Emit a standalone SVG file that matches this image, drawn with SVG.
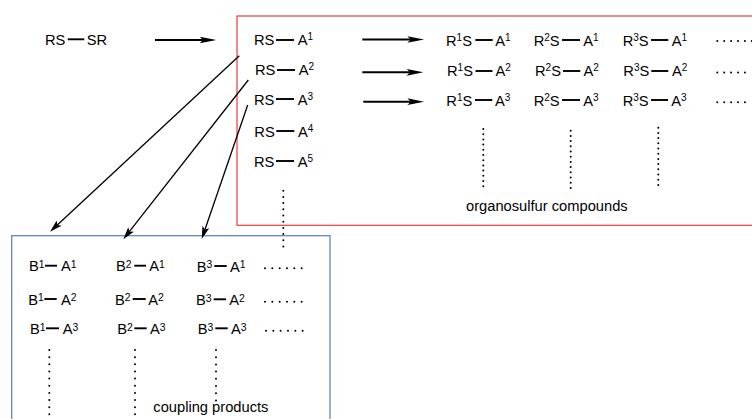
<svg xmlns="http://www.w3.org/2000/svg" width="752" height="419" viewBox="0 0 752 419">
<style>
.t{font-family:"Liberation Sans",Arial,Helvetica,sans-serif;font-size:14.7px;fill:#000}
.s{font-size:10px}
.sb{font-size:10.4px}
.bond{stroke:#000;stroke-width:1.9}
.dots{stroke:#000;stroke-width:2;stroke-linecap:round;fill:none}
.arr{stroke:#000;stroke-width:2;fill:none}
.diag{stroke:#000;stroke-width:1.3;fill:none}
</style>
<defs>
<marker id="ah" markerUnits="userSpaceOnUse" markerWidth="20" markerHeight="10" viewBox="-4 -4 18 8" refX="0" refY="0" orient="auto">
<path d="M12,0 L-3,-3 L0,0 L-3,3 Z" fill="#000"/>
</marker>
<marker id="ahs" markerUnits="userSpaceOnUse" markerWidth="16" markerHeight="10" viewBox="-4 -4 16 8" refX="0" refY="0" orient="auto">
<path d="M10,0 L-2.5,-3.6 L0,0 L-2.5,3.6 Z" fill="#000"/>
</marker>
</defs>

<g id="box-organosulfur">
<rect x="237" y="16" width="520" height="209.3" fill="none" stroke="#f0393c" stroke-width="1.2"/>
<text class="t" x="466" y="210.7">organosulfur compounds</text>
</g>
<g id="box-coupling">
<rect x="11.7" y="235.7" width="318.3" height="200" fill="none" stroke="#5e86c6" stroke-width="1.3"/>
<text class="t" x="153.3" y="412">coupling products</text>
</g>

<g id="disulfide">
<text class="t" x="45" y="44.5">RS</text>
<line class="bond" x1="67.7" y1="39.3" x2="84.3" y2="39.3"/>
<text class="t" x="86.7" y="44.5">SR</text>
</g>

<g id="rs-a1"><text class="t" x="254" y="45.3">RS</text><line class="bond" x1="276" y1="40" x2="294" y2="40"/><text class="t" x="297.7" y="45.3">A<tspan class="s" dy="-5">1</tspan></text></g>
<g id="rs-a2"><text class="t" x="255" y="75.3">RS</text><line class="bond" x1="277" y1="70" x2="295" y2="70"/><text class="t" x="298.7" y="75.3">A<tspan class="s" dy="-5">2</tspan></text></g>
<g id="rs-a3"><text class="t" x="254" y="104.5">RS</text><line class="bond" x1="276" y1="99" x2="294" y2="99"/><text class="t" x="297.7" y="104.5">A<tspan class="s" dy="-5">3</tspan></text></g>
<g id="rs-a4"><text class="t" x="254.3" y="136.7">RS</text><line class="bond" x1="276.3" y1="131" x2="294.3" y2="131"/><text class="t" x="298" y="136.7">A<tspan class="s" dy="-5">4</tspan></text></g>
<g id="rs-a5"><text class="t" x="254" y="166.7">RS</text><line class="bond" x1="276" y1="161" x2="294" y2="161"/><text class="t" x="297.7" y="166.7">A<tspan class="s" dy="-5">5</tspan></text></g>
<g id="rs-more"><line class="dots" x1="283.3" y1="190.7" x2="283.3" y2="247" stroke-dasharray="0 6.2"/></g>

<g id="r1s-a1"><text class="t" x="446" y="45.5">R<tspan class="s" dy="-5">1</tspan><tspan dy="5">S</tspan></text><line class="bond" x1="475.3" y1="40" x2="492.7" y2="40"/><text class="t" x="495.3" y="45.5">A<tspan class="s" dy="-5">1</tspan></text></g>
<g id="r2s-a1"><text class="t" x="533.7" y="45.5">R<tspan class="s" dy="-5">2</tspan><tspan dy="5">S</tspan></text><line class="bond" x1="562" y1="40" x2="580" y2="40"/><text class="t" x="583.3" y="45.5">A<tspan class="s" dy="-5">1</tspan></text></g>
<g id="r3s-a1"><text class="t" x="622.7" y="45.5">R<tspan class="s" dy="-5">3</tspan><tspan dy="5">S</tspan></text><line class="bond" x1="651" y1="40" x2="668.3" y2="40"/><text class="t" x="671.7" y="45.5">A<tspan class="s" dy="-5">1</tspan></text></g>
<g id="row1-more"><line class="dots" x1="717.3" y1="41" x2="760" y2="41" stroke-dasharray="0 6.9"/></g>

<g id="r1s-a2"><text class="t" x="447" y="76.3">R<tspan class="s" dy="-5">1</tspan><tspan dy="5">S</tspan></text><line class="bond" x1="475.5" y1="71" x2="492.5" y2="71"/><text class="t" x="495.5" y="76.3">A<tspan class="s" dy="-5">2</tspan></text></g>
<g id="r2s-a2"><text class="t" x="535" y="76.3">R<tspan class="s" dy="-5">2</tspan><tspan dy="5">S</tspan></text><line class="bond" x1="563" y1="71" x2="580.3" y2="71"/><text class="t" x="583.5" y="76.3">A<tspan class="s" dy="-5">2</tspan></text></g>
<g id="r3s-a2"><text class="t" x="623.3" y="76.3">R<tspan class="s" dy="-5">3</tspan><tspan dy="5">S</tspan></text><line class="bond" x1="651.3" y1="71" x2="668.3" y2="71"/><text class="t" x="672" y="76.3">A<tspan class="s" dy="-5">2</tspan></text></g>
<g id="row2-more"><line class="dots" x1="717.3" y1="72.5" x2="745.3" y2="72.5" stroke-dasharray="0 6.9"/></g>

<g id="r1s-a3"><text class="t" x="446.3" y="105.5">R<tspan class="s" dy="-5">1</tspan><tspan dy="5">S</tspan></text><line class="bond" x1="475" y1="100" x2="492.3" y2="100"/><text class="t" x="495" y="105.5">A<tspan class="s" dy="-5">3</tspan></text></g>
<g id="r2s-a3"><text class="t" x="533.7" y="105.5">R<tspan class="s" dy="-5">2</tspan><tspan dy="5">S</tspan></text><line class="bond" x1="562" y1="100" x2="580" y2="100"/><text class="t" x="583.3" y="105.5">A<tspan class="s" dy="-5">3</tspan></text></g>
<g id="r3s-a3"><text class="t" x="622.7" y="105.5">R<tspan class="s" dy="-5">3</tspan><tspan dy="5">S</tspan></text><line class="bond" x1="651" y1="100" x2="668" y2="100"/><text class="t" x="671.3" y="105.5">A<tspan class="s" dy="-5">3</tspan></text></g>
<g id="row3-more"><line class="dots" x1="717.3" y1="102.3" x2="745.3" y2="102.3" stroke-dasharray="0 6.9"/></g>

<g id="col1-more"><line class="dots" x1="483.3" y1="129" x2="483.3" y2="186.5" stroke-dasharray="0 5.2"/></g>
<g id="col2-more"><line class="dots" x1="570.7" y1="130.7" x2="570.7" y2="188" stroke-dasharray="0 5.2"/></g>
<g id="col3-more"><line class="dots" x1="658.3" y1="127.7" x2="658.3" y2="185" stroke-dasharray="0 5.2"/></g>

<g id="b1-a1"><text class="t" x="29" y="271.3">B<tspan class="sb" dy="-3.5">1</tspan></text><line class="bond" x1="45" y1="265.7" x2="57" y2="265.7"/><text class="t" x="61" y="271.3">A<tspan class="sb" dy="-3.5">1</tspan></text></g>
<g id="b2-a1"><text class="t" x="116" y="271.3">B<tspan class="sb" dy="-3.5">2</tspan></text><line class="bond" x1="134.3" y1="265.7" x2="146" y2="265.7"/><text class="t" x="149.3" y="271.3">A<tspan class="sb" dy="-3.5">1</tspan></text></g>
<g id="b3-a1"><text class="t" x="196.7" y="271.7">B<tspan class="sb" dy="-3.5">3</tspan></text><line class="bond" x1="214.3" y1="266" x2="226.7" y2="266"/><text class="t" x="230" y="271.7">A<tspan class="sb" dy="-3.5">1</tspan></text></g>
<g id="b-row1-more"><line class="dots" x1="265" y1="268.3" x2="302" y2="268.3" stroke-dasharray="0 7.33"/></g>

<g id="b1-a2"><text class="t" x="28.3" y="304.5">B<tspan class="sb" dy="-3.5">1</tspan></text><line class="bond" x1="44.3" y1="299" x2="56.7" y2="299"/><text class="t" x="61" y="304.5">A<tspan class="sb" dy="-3.5">2</tspan></text></g>
<g id="b2-a2"><text class="t" x="115" y="304.5">B<tspan class="sb" dy="-3.5">2</tspan></text><line class="bond" x1="132.7" y1="299" x2="145.7" y2="299"/><text class="t" x="148.3" y="304.5">A<tspan class="sb" dy="-3.5">2</tspan></text></g>
<g id="b3-a2"><text class="t" x="196" y="305">B<tspan class="sb" dy="-3.5">3</tspan></text><line class="bond" x1="213.7" y1="299.3" x2="226" y2="299.3"/><text class="t" x="229.3" y="305">A<tspan class="sb" dy="-3.5">2</tspan></text></g>
<g id="b-row2-more"><line class="dots" x1="265" y1="301.7" x2="302" y2="301.7" stroke-dasharray="0 7.33"/></g>

<g id="b1-a3"><text class="t" x="30" y="334">B<tspan class="sb" dy="-3.5">1</tspan></text><line class="bond" x1="46" y1="328.3" x2="59" y2="328.3"/><text class="t" x="62.7" y="334">A<tspan class="sb" dy="-3.5">3</tspan></text></g>
<g id="b2-a3"><text class="t" x="117.3" y="334">B<tspan class="sb" dy="-3.5">2</tspan></text><line class="bond" x1="134.3" y1="328.3" x2="146.7" y2="328.3"/><text class="t" x="150" y="334">A<tspan class="sb" dy="-3.5">3</tspan></text></g>
<g id="b3-a3"><text class="t" x="197.7" y="334">B<tspan class="sb" dy="-3.5">3</tspan></text><line class="bond" x1="215.3" y1="328.3" x2="227.7" y2="328.3"/><text class="t" x="231" y="334">A<tspan class="sb" dy="-3.5">3</tspan></text></g>
<g id="b-row3-more"><line class="dots" x1="266" y1="330.7" x2="303" y2="330.7" stroke-dasharray="0 7.33"/></g>

<g id="b-col1-more"><line class="dots" x1="49.3" y1="350" x2="49.3" y2="414.5" stroke-dasharray="0 7.15"/></g>
<g id="b-col2-more"><line class="dots" x1="135" y1="350" x2="135" y2="414.5" stroke-dasharray="0 7.15"/></g>
<g id="b-col3-more"><line class="dots" x1="216" y1="350" x2="216" y2="400.5" stroke-dasharray="0 7.2"/></g>

<g id="connectors">
<line class="arr" x1="155" y1="40" x2="203" y2="40" marker-end="url(#ah)"/>
<line class="arr" x1="362.3" y1="39.5" x2="410.7" y2="39.5" marker-end="url(#ah)"/>
<line class="arr" x1="362.3" y1="72.3" x2="410" y2="72.3" marker-end="url(#ah)"/>
<line class="arr" x1="363.3" y1="101.7" x2="410.7" y2="101.7" marker-end="url(#ah)"/>
<line class="diag" x1="239.3" y1="55.7" x2="57.3" y2="224.9" marker-end="url(#ahs)"/>
<line class="diag" x1="248.3" y1="80" x2="129.5" y2="231.4" marker-end="url(#ahs)"/>
<line class="diag" x1="247.7" y1="105" x2="205" y2="229.5" marker-end="url(#ahs)"/>
</g>
</svg>
